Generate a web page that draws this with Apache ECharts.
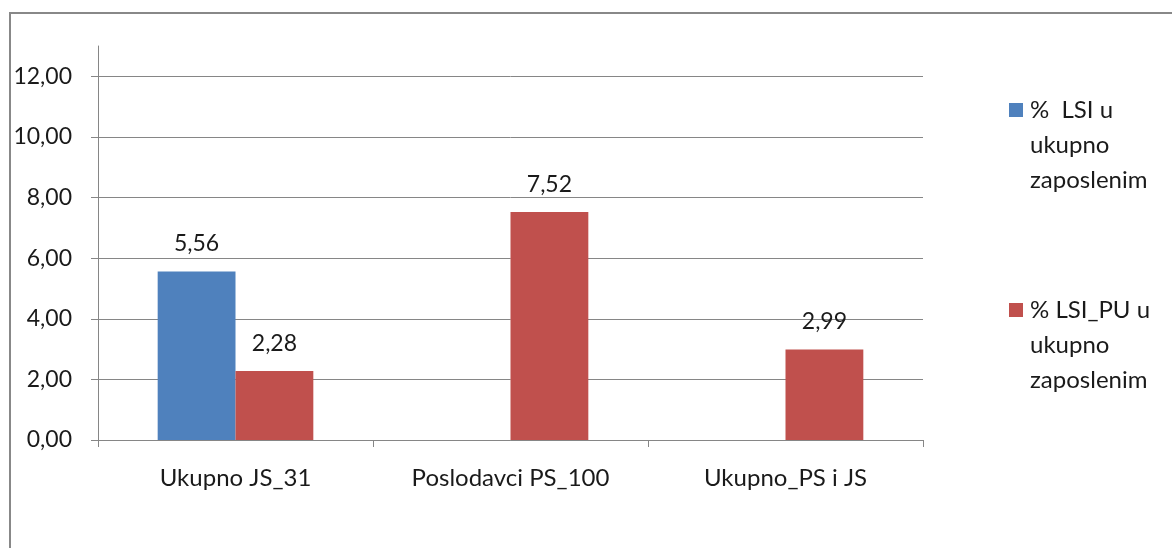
<!DOCTYPE html>
<html>
<head>
<meta charset="utf-8">
<script src="https://cdn.jsdelivr.net/npm/echarts@6/dist/echarts.min.js"></script>
<style>
  html, body { margin: 0; padding: 0; background: #fff; }
  #frame { position: absolute; left: 9px; top: 12px; width: 1200px; height: 600px;
           border-top: 2px solid #888; border-left: 2px solid #888; }
  #main { position: absolute; left: 0; top: 0; width: 1172px; height: 548px; }
</style>
</head>
<body>
<div id="frame"></div>
<div id="main"></div>
<script>
// kategorije i vrijednosti
var categories = ['Ukupno JS_31', 'Poslodavci PS_100', 'Ukupno_PS i JS'];
var lsiValues = [5.56, null, null];
var lsiPuValues = [2.28, 7.52, 2.99];
var seriesNames = ['% \u00a0LSI u\nukupno\nzaposlenim', '% LSI_PU u\nukupno\nzaposlenim'];
var yTicks = [0, 2, 4, 6, 8, 10, 12];

var fontFamily = 'Lato';
var fmt = function (v) { return Number(v).toFixed(2).replace('.', ','); };

var chart = echarts.init(document.getElementById('main'), null, { width: 1172, height: 548 });

// kvadratic uz prvi red teksta (nevidljive tocke drze visinu ikone)
var legendIcon = 'path://M0,0h0.01v0.01h-0.01zM0,10h14v14h-14zM0,104.99h0.01v0.01h-0.01z';

var option = {
  animation: false,
  color: ['#4F81BD', '#C0504D'],
  grid: { left: 98, right: 249, top: 46, bottom: 108, containLabel: false },
  legend: {
    data: seriesNames,
    orient: 'vertical',
    left: 1004,
    top: 88,
    itemWidth: 14,
    itemHeight: 105,
    itemGap: 95,
    icon: legendIcon,
    textStyle: {
      fontFamily: fontFamily,
      fontSize: 24,
      color: '#1a1a1a',
      lineHeight: 35,
      padding: [0, 0, 0, 2]
    }
  },
  xAxis: {
    type: 'category',
    data: categories,
    axisLine: { lineStyle: { color: '#868686' } },
    axisTick: { show: true, length: 7, alignWithLabel: false, lineStyle: { color: '#868686' } },
    axisLabel: { margin: 26, fontFamily: fontFamily, fontSize: 24, color: '#1a1a1a' },
    splitLine: { show: false }
  },
  yAxis: {
    type: 'value',
    min: 0,
    max: 13,
    axisLine: { show: true, lineStyle: { color: '#868686' } },
    axisTick: { show: true, length: 7, customValues: yTicks, lineStyle: { color: '#868686' } },
    axisLabel: {
      customValues: yTicks,
      margin: 26, fontFamily: fontFamily, fontSize: 23, color: '#1a1a1a',
      formatter: fmt
    },
    splitLine: { show: true, lineStyle: { color: '#868686', width: 1 } }
  },
  series: [
    {
      name: seriesNames[0],
      type: 'bar',
      data: lsiValues,
      barWidth: '28.3%',
      barGap: '0%',
      label: { show: true, position: 'top', distance: 16, fontFamily: fontFamily, fontSize: 23, color: '#1a1a1a', formatter: function (p) { return fmt(p.value); } }
    },
    {
      name: seriesNames[1],
      type: 'bar',
      data: lsiPuValues,
      barWidth: '28.3%',
      barGap: '0%',
      label: { show: true, position: 'top', distance: 16, fontFamily: fontFamily, fontSize: 23, color: '#1a1a1a', formatter: function (p) { return fmt(p.value); } }
    }
  ]
};

chart.setOption(option);
</script>
</body>
</html>
